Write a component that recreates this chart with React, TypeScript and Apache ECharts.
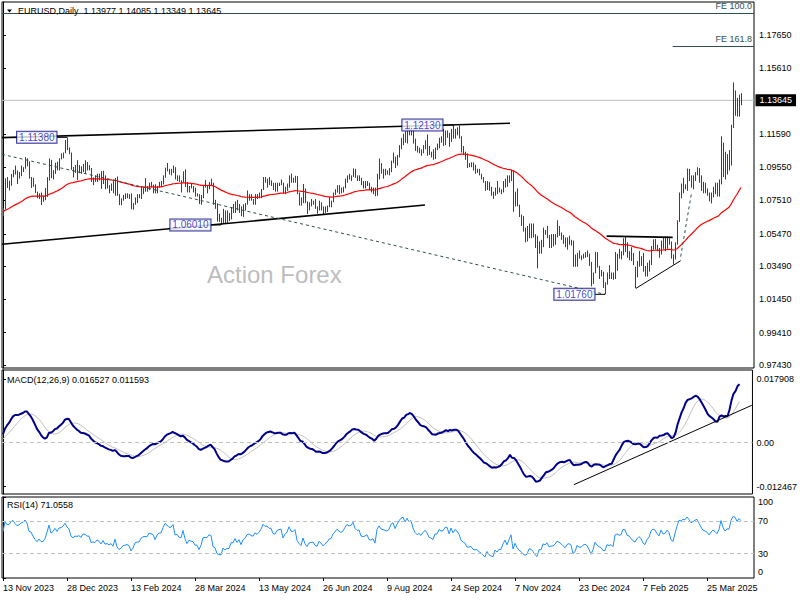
import React, { useEffect, useRef } from "react";
import * as echarts from "echarts";

// ---------------- data (prices in pips above 1.0000) ----------------
const PIP = 10000;

// closes before the visible window (17 Jul - 10 Nov 2023), used only to warm up the indicators
const preClose = [
  1235, 1225, 1200, 1130, 1125,
  1065, 1055, 1085, 975, 1015,
  995, 985, 935, 945, 1005,
  998, 955, 975, 980, 945,
  905, 905, 875, 870, 870,
  895, 845, 860, 810, 795,
  815, 880, 920, 840, 775,
  795, 725, 725, 695, 700,
  750, 755, 730, 640, 660,
  690, 680, 660, 660, 645,
  590, 570, 500, 565, 575,
  475, 470, 505, 550, 590,
  565, 605, 620, 530, 510,
  555, 575, 535, 585, 595,
  670, 590, 565, 565, 565,
  615, 575, 570, 620, 730,
  720, 700, 710, 665, 685,
];

// daily bars 13 Nov 2023 - 17 Apr 2025
const barHigh = [
  705, 887, 895, 872, 914,
  939, 965, 935, 925, 965,
  955, 1017, 1009, 990, 895,
  890, 850, 805, 795, 800,
  780, 827, 894, 1009, 1000,
  937, 983, 989, 1010, 1040,
  1045, 1122, 1138, 1076,
  1045, 956, 969, 998,
  968, 960, 975, 998, 987,
  968, 950, 892, 905, 915,
  915, 932, 933, 905, 885,
  845, 855, 870, 889, 898,
  790, 764, 785, 795, 795,
  790, 795, 735, 770, 790,
  790, 838, 830, 888, 840,
  860, 865, 848, 850, 840,
  865, 870, 905, 952, 981,
  945, 945, 965, 955, 905,
  905, 875, 930, 942, 865,
  840, 855, 840, 830, 795,
  790, 785, 840, 877, 845,
  865, 885, 860, 755, 733,
  670, 645, 700, 690, 690,
  675, 710, 730, 745, 755,
  730, 715, 728, 735, 812,
  790, 790, 760, 790, 790,
  800, 822, 895, 895, 885,
  895, 875, 860, 860, 860,
  860, 880, 860, 835, 855,
  905, 916, 890, 902, 900,
  800, 770, 852, 825, 745,
  740, 760, 750, 760, 715,
  750, 740, 715, 715, 720,
  775, 750, 800, 820, 845,
  845, 830, 835, 885, 905,
  915, 905, 948, 945, 905,
  905, 890, 870, 870, 870,
  860, 835, 830, 830, 915,
  1008, 980, 945, 945, 935,
  950, 995, 1045, 1020, 1030,
  1090, 1135, 1160, 1175, 1200,
  1202, 1190, 1185, 1130, 1085,
  1075, 1065, 1090, 1120, 1155,
  1085, 1050, 1065, 1075, 1100,
  1135, 1145, 1190, 1180, 1180,
  1165, 1190, 1213, 1190, 1200,
  1210, 1145, 1085, 1050, 1040,
  980, 985, 985, 970, 945,
  945, 915, 895, 870, 870,
  865, 835, 805, 830, 870,
  830, 820, 870, 885, 905,
  905, 937, 935, 805, 825,
  725, 665, 655, 585, 595,
  610, 610, 610, 545, 535,
  500, 510, 585, 570, 596,
  540, 545, 545, 545, 630,
  595, 555, 540, 525, 525,
  535, 510, 505, 420, 430,
  445, 415, 425, 435, 445, 425,
  375, 310,
  437, 435, 350, 325, 315,
  250, 310, 355, 310, 310,
  435, 425, 455, 440, 520,
  533, 495, 440, 465, 430,
  345, 380, 442, 410, 430,
  350, 370, 385, 472, 513,
  515, 480, 460, 505, 528,
  530, 530, 520, 500, 420,
  495, 630, 800, 855, 890,
  850, 947, 945, 905, 905,
  925, 955, 950, 905, 865,
  860, 825, 800, 800, 835,
  860, 860, 880, 1145, 1105,
  1050, 1035, 1060, 1215, 1475,
  1425, 1380, 1400, 1408.5,
];

const barLow = [
  656, 697, 828, 812, 841,
  893, 910, 852, 885, 900,
  925, 945, 960, 885, 828,
  835, 796, 765, 760, 723,
  743, 753, 773, 873, 888,
  880, 914, 935, 935, 1003,
  1010, 1040, 1060, 1035,
  939, 892, 920, 877,
  918, 915, 925, 915, 935,
  935, 865, 845, 865, 865,
  875, 822, 852, 820, 825,
  795, 810, 795, 780, 780,
  723, 722, 750, 760, 765,
  760, 697, 695, 725, 735,
  765, 760, 790, 805, 805,
  815, 830, 795, 795, 795,
  830, 835, 850, 890, 930,
  910, 905, 920, 880, 870,
  865, 800, 860, 833, 800,
  800, 825, 800, 775, 775,
  730, 725, 765, 830, 795,
  820, 845, 725, 700, 622,
  620, 601, 610, 610, 610,
  625, 635, 675, 675, 690,
  675, 655, 650, 690, 725,
  750, 750, 725, 725, 760,
  765, 765, 815, 860, 830,
  845, 840, 815, 805, 805,
  840, 845, 795, 790, 810,
  830, 860, 860, 860, 790,
  720, 720, 735, 735, 668,
  690, 715, 725, 700, 670,
  690, 690, 667, 675, 680,
  710, 710, 740, 785, 800,
  790, 795, 800, 825, 860,
  880, 870, 895, 890, 870,
  870, 845, 825, 825, 840,
  815, 800, 790, 777, 780,
  880, 915, 885, 905, 910,
  905, 925, 980, 950, 965,
  1015, 1065, 1090, 1105, 1100,
  1150, 1150, 1100, 1055, 1045,
  1040, 1025, 1040, 1065, 1025,
  1030, 1015, 1000, 1005, 1060,
  1070, 1105, 1085, 1090, 1135,
  1080, 1110, 1130, 1130, 1150,
  1130, 1045, 1030, 1000, 950,
  955, 955, 935, 915, 920,
  905, 880, 860, 810, 815,
  810, 780, 761, 780, 790,
  800, 790, 800, 830, 835,
  860, 870, 682, 715, 715,
  650, 595, 560, 495, 500,
  520, 520, 525, 460, 335,
  425, 425, 465, 540, 520,
  460, 460, 470, 480, 525,
  535, 510, 485, 465, 450,
  480, 475, 345, 345, 345,
  395, 385, 395, 400, 405, 350,
  225, 240,
  305, 340, 270, 285, 215,
  176, 235, 270, 270, 265,
  270, 320, 395, 390, 415,
  435, 400, 385, 380, 355,
  213, 280, 345, 350, 315,
  285, 285, 315, 355, 450,
  450, 440, 400, 420, 455,
  440, 455, 480, 395, 359,
  390, 480, 620, 765, 795,
  820, 810, 870, 830, 820,
  870, 905, 860, 810, 795,
  795, 780, 745, 733, 770,
  790, 775, 775, 850, 895,
  880, 910, 935, 965, 1195,
  1270, 1265, 1265, 1334.9,
];

const barClose = [
  700, 882, 848, 852, 912,
  940, 910, 888, 905, 940,
  953, 998, 970, 890, 883,
  837, 796, 765, 795, 762,
  762, 794, 873, 993, 895,
  923, 980, 942, 1006, 1013,
  1042, 1106, 1062, 1039,
  942, 921, 945, 940,
  950, 930, 972, 970, 950,
  950, 877, 882, 875, 898,
  885, 855, 885, 845, 850,
  835, 845, 817, 873, 785,
  743, 755, 775, 780, 785,
  772, 708, 728, 770, 777,
  777, 807, 820, 823, 820,
  850, 845, 840, 805, 838,
  855, 855, 900, 947, 937,
  925, 925, 950, 885, 890,
  870, 865, 925, 860, 810,
  840, 830, 825, 790, 790,
  740, 770, 835, 837, 837,
  860, 855, 745, 730, 640,
  625, 617, 670, 645, 655,
  655, 700, 700, 735, 695,
  720, 665, 710, 725, 760,
  770, 755, 750, 782, 770,
  790, 820, 880, 865, 870,
  855, 855, 820, 815, 848,
  855, 860, 800, 830, 850,
  905, 875, 870, 890, 800,
  765, 740, 810, 740, 700,
  735, 740, 745, 705, 690,
  735, 715, 680, 700, 710,
  740, 745, 790, 810, 840,
  825, 815, 830, 870, 905,
  895, 900, 940, 900, 885,
  890, 845, 840, 845, 855,
  820, 815, 825, 790, 910,
  955, 930, 925, 920, 915,
  930, 990, 1010, 970, 1025,
  1080, 1130, 1150, 1115, 1190,
  1160, 1185, 1120, 1075, 1050,
  1065, 1045, 1080, 1110, 1085,
  1040, 1030, 1015, 1075, 1075,
  1130, 1115, 1120, 1160, 1163,
  1110, 1180, 1135, 1180, 1165,
  1135, 1065, 1045, 1030, 975,
  975, 980, 940, 935, 935,
  910, 890, 860, 830, 865,
  815, 795, 780, 825, 795,
  815, 815, 855, 885, 835,
  880, 930, 730, 800, 720,
  655, 625, 565, 530, 540,
  600, 595, 545, 470, 415,
  495, 490, 565, 550, 575,
  500, 510, 510, 530, 565,
  550, 530, 500, 470, 500,
  510, 490, 350, 365, 430,
  405, 400, 420, 430, 410, 355,
  265, 305,
  390, 345, 315, 300, 245,
  245, 305, 290, 300, 270,
  410, 425, 410, 415, 495,
  490, 430, 420, 390, 360,
  345, 380, 403, 381, 329,
  307, 361, 383, 466, 493,
  484, 447, 423, 503, 459,
  466, 512, 487, 398, 376,
  485, 625, 790, 780, 835,
  830, 920, 890, 850, 880,
  920, 945, 900, 855, 815,
  805, 790, 755, 800, 830,
  815, 790, 855, 1050, 960,
  905, 955, 950, 1195, 1360,
  1350, 1285, 1398, 1364.5,
];

const dateTickLabels = [
  "13 Nov 2023", "28 Dec 2023", "13 Feb 2024", "28 Mar 2024", "13 May 2024", "26 Jun 2024",
  "9 Aug 2024", "24 Sep 2024", "7 Nov 2024", "23 Dec 2024", "7 Feb 2025", "25 Mar 2025",
];
const dateTickStep = 32;
const priceTicks = [1.1765, 1.1561, 1.1159, 1.0955, 1.0751, 1.0547, 1.0349, 1.0145, 0.9941, 0.9743];
const macdTicks = [0.017908, 0, -0.012467];
const rsiTicks = [100, 70, 30, 0];
const rsiLevels = [70, 30];

const headerText = "EURUSD,Daily  1.13977 1.14085 1.13349 1.13645";
const macdText = "MACD(12,26,9) 0.016527 0.011593";
const rsiText = "RSI(14) 71.0558";
const watermark = "Action Forex";
const lastPrice = 1.13645;

// Fibonacci expansion levels
const fe100 = 1.1916;
const fe1618 = 1.1698;
const fe1618Start = 334.85;

// swing points with price labels (bar index, which extreme)
const pivotBars = [32, 109, 225, 301];
const pivotSides = ["high", "low", "high", "low"];

// drawn trend lines: [bar index, price]
const upperChannel = [[-0.5, 1.1136], [253.5, 1.1224]];
const lowerChannel = [[-0.5, 1.0483], [211, 1.0723]];
const longDashed = [[-0.5, 1.1034], [301, 1.0176]];
const shortDashed = [[338.85, 1.0407], [344.35, 1.0805]];
const boxTop = [[301.85, 1.0533], [334.85, 1.0525]];
const boxBottom = [[316.5, 1.0213], [338.85, 1.0382]];
const macdTrend = [[286, -0.01194], [375.15, 0.01053]];

// ---------------- helpers ----------------
const toPrice = (p: number) => 1 + p / PIP;

function ema(src: number[], n: number): number[] {
  const k = 2 / (n + 1);
  const out: number[] = [];
  let prev = src[0];
  src.forEach((v, i) => {
    prev = i === 0 ? v : v * k + prev * (1 - k);
    out.push(prev);
  });
  return out;
}
function sma(src: number[], n: number): number[] {
  return src.map((_, i) => {
    const s = Math.max(0, i - n + 1);
    let t = 0;
    for (let j = s; j <= i; j++) t += src[j];
    return t / (i - s + 1);
  });
}
function rsi(src: number[], n: number): number[] {
  const out = new Array(src.length).fill(50);
  let ag = 0, al = 0;
  for (let i = 1; i < src.length; i++) {
    const d = src[i] - src[i - 1];
    const g = d > 0 ? d : 0, l = d < 0 ? -d : 0;
    if (i <= n) { ag += g / n; al += l / n; }
    else { ag = (ag * (n - 1) + g) / n; al = (al * (n - 1) + l) / n; }
    out[i] = al === 0 ? 100 : 100 - 100 / (1 + ag / al);
  }
  return out;
}

const FONT = '"Liberation Sans", Arial, sans-serif';
const BAR_COLOR = "#1b4a64";
const OBJ_GREY = "#2f4f4f";
const XMIN = -0.5;
const XMAX = 375.5;

export default function App() {
  const ref = useRef<HTMLDivElement>(null);

  useEffect(() => {
    if (!ref.current) return;
    const chart = echarts.init(ref.current, undefined, { renderer: "svg" });

    const offset = preClose.length;
    const allClose = [...preClose, ...barClose].map(toPrice);
    const ema55 = ema(allClose, 55).slice(offset);
    const e12 = ema(allClose, 12);
    const e26 = ema(allClose, 26);
    const macdAll = e12.map((v, i) => v - e26[i]);
    const sigAll = sma(macdAll, 9);
    const macd = macdAll.slice(offset);
    const sig = sigAll.slice(offset);
    const rsi14 = rsi(allClose, 14).slice(offset);

    const bars = barHigh.map((h, i) => [i, toPrice(h), toPrice(barLow[i])]);

    const seg = (pts: number[][], color: string, width: number, dash: any, xi = 0, z = 5) => ({
      type: "line",
      xAxisIndex: xi,
      yAxisIndex: xi,
      data: pts,
      showSymbol: false,
      symbol: "none",
      silent: true,
      z,
      lineStyle: { color, width, type: dash },
    });

    const pivotPrices = pivotBars.map((b, k) =>
      pivotSides[k] === "high" ? toPrice(barHigh[b]) : toPrice(barLow[b])
    );
    const connectors = pivotBars.map((b, k) =>
      seg([[b - 5, pivotPrices[k]], [b, pivotPrices[k]]], "#000", 1, "solid")
    );

    const axisText = { color: "#000", fontSize: 9, fontFamily: FONT };
    const hiddenX = (gi: number) => ({
      type: "value", gridIndex: gi, min: XMIN, max: XMAX,
      axisLine: { show: false }, axisTick: { show: false }, axisLabel: { show: false }, splitLine: { show: false },
    });
    const dateValues = dateTickLabels.map((_, k) => k * dateTickStep);

    const option: any = {
      animation: false,
      backgroundColor: "#ffffff",
      grid: [
        { left: 2, top: 2, width: 752, height: 366, show: true, borderColor: "#000", borderWidth: 1, backgroundColor: "transparent" },
        { left: 2, top: 370, width: 752, height: 124, show: true, borderColor: "#000", borderWidth: 1, backgroundColor: "transparent" },
        { left: 2, top: 497, width: 752, height: 81, show: true, borderColor: "#000", borderWidth: 1, backgroundColor: "transparent" },
      ],
      xAxis: [
        hiddenX(0),
        hiddenX(1),
        {
          type: "value", gridIndex: 2, min: XMIN, max: XMAX,
          axisLine: { show: false },
          splitLine: { show: false },
          axisTick: { show: true, customValues: dateValues, length: 3, lineStyle: { color: "#000" } },
          axisLabel: {
            ...axisText, customValues: dateValues, align: "left", margin: 5,
            formatter: (v: number) => dateTickLabels[Math.round(v / dateTickStep)] || "",
          },
        },
      ],
      yAxis: [
        {
          type: "value", gridIndex: 0, position: "right", min: 0.97247, max: 1.19672,
          axisLine: { show: true, lineStyle: { color: "#000" } },
          splitLine: { show: false },
          axisTick: { show: true, customValues: priceTicks, length: 3, lineStyle: { color: "#000" } },
          axisLabel: { ...axisText, customValues: priceTicks, margin: 5, formatter: (v: number) => v.toFixed(5) },
        },
        {
          type: "value", gridIndex: 1, position: "right", min: -0.01457, max: 0.02052,
          axisLine: { show: true, lineStyle: { color: "#000" } },
          splitLine: { show: false },
          axisTick: { show: true, customValues: macdTicks, length: 3, lineStyle: { color: "#000" } },
          axisLabel: {
            ...axisText, customValues: macdTicks, margin: 4,
            formatter: (v: number) => (Math.abs(v) < 1e-9 ? "0.00" : v.toFixed(6)),
          },
        },
        {
          type: "value", gridIndex: 2, position: "right", min: 0, max: 100,
          axisLine: { show: true, lineStyle: { color: "#000" } },
          splitLine: { show: false },
          axisTick: { show: true, customValues: rsiTicks, length: 3, lineStyle: { color: "#000" } },
          axisLabel: {
            ...axisText, customValues: rsiTicks, margin: 4,
            formatter: (v: number) => (v === 100 ? "{dn|100}" : v === 0 ? "{up|0}" : "{n|" + v + "}"),
            rich: {
              dn: { fontSize: 9, fontFamily: FONT, color: "#000", padding: [10, 0, 0, 0] },
              up: { fontSize: 9, fontFamily: FONT, color: "#000", padding: [0, 0, 12, 0] },
              n: { fontSize: 9, fontFamily: FONT, color: "#000" },
            },
          },
        },
      ],
      graphic: [
        { type: "polygon", z: 100, shape: { points: [[7, 9.5], [12, 9.5], [9.5, 12.5]] }, style: { fill: "#000" } },
        { type: "text", z: 100, x: 18, y: 11, style: { text: headerText, fill: "#000", font: `9px ${FONT}`, verticalAlign: "middle" } },
        { type: "text", z: 100, x: 7, y: 380, style: { text: macdText, fill: "#000", font: `9px ${FONT}`, verticalAlign: "middle" } },
        { type: "text", z: 100, x: 7, y: 505, style: { text: rsiText, fill: "#000", font: `9px ${FONT}`, verticalAlign: "middle" } },
        { type: "text", z: 100, x: 207, y: 274, style: { text: watermark, fill: "#bdbdbd", font: `24px ${FONT}`, verticalAlign: "middle" } },
      ],
      series: [
        // current price line
        {
          type: "line", xAxisIndex: 0, yAxisIndex: 0, z: 1, silent: true,
          data: [[XMIN, lastPrice], [XMAX, lastPrice]],
          showSymbol: false, symbol: "none",
          lineStyle: { color: "#c0c0c0", width: 1 },
          markPoint: {
            silent: true,
            symbol: "rect", symbolSize: 1, itemStyle: { color: "rgba(0,0,0,0)" },
            data: [{ coord: [XMAX, lastPrice] }],
            label: {
              show: true, position: "right", distance: 1, formatter: lastPrice.toFixed(5),
              color: "#fff", backgroundColor: "#000", padding: [2, 4, 1, 4], fontSize: 9, fontFamily: FONT,
            },
          },
        },
        // price bars
        {
          type: "custom", xAxisIndex: 0, yAxisIndex: 0, z: 2, silent: true,
          data: bars,
          encode: { x: 0, y: [1, 2] },
          renderItem: (_p: any, api: any) => {
            const i = api.value(0);
            const a = api.coord([i, api.value(1)]);
            const b = api.coord([i, api.value(2)]);
            const x = Math.round(a[0]) + 0.5;
            return {
              type: "line",
              shape: { x1: x, y1: a[1], x2: x, y2: b[1] },
              style: { stroke: BAR_COLOR, lineWidth: 1 },
            };
          },
        },
        // 55 EMA with FE levels
        {
          type: "line", xAxisIndex: 0, yAxisIndex: 0, z: 3, silent: true,
          data: ema55.map((v, i) => [i, v]),
          showSymbol: false, symbol: "none",
          lineStyle: { color: "#ff0000", width: 1.2 },
          markLine: {
            silent: true, symbol: ["none", "none"],
            data: [
              {
                yAxis: fe100,
                lineStyle: { color: OBJ_GREY, width: 1, type: "solid" },
                label: { show: true, position: "insideEndTop", formatter: "FE 100.0", color: OBJ_GREY, fontSize: 9, fontFamily: FONT, distance: 2 },
              },
              [
                {
                  coord: [fe1618Start, fe1618],
                  lineStyle: { color: OBJ_GREY, width: 1, type: "solid" },
                  label: { show: true, position: "insideEndTop", formatter: "FE 161.8", color: OBJ_GREY, fontSize: 9, fontFamily: FONT, distance: 2 },
                },
                { coord: [XMAX, fe1618] },
              ],
            ],
          },
        },
        seg(upperChannel, "#000", 1.6, "solid"),
        seg(lowerChannel, "#000", 1.6, "solid"),
        seg(longDashed, OBJ_GREY, 1, [3, 3]),
        seg(shortDashed, OBJ_GREY, 1, [3, 3]),
        seg(boxTop, "#000", 1.6, "solid"),
        seg(boxBottom, "#000", 1, "solid"),
        ...connectors,
        // swing labels
        {
          type: "scatter", xAxisIndex: 0, yAxisIndex: 0, z: 8, silent: true,
          symbol: "rect", symbolSize: 1, itemStyle: { color: "rgba(0,0,0,0)" },
          data: pivotBars.map((b, k) => [b - 5, pivotPrices[k], pivotPrices[k].toFixed(5)]),
          label: {
            show: true, position: "left", distance: 0,
            formatter: (p: any) => p.data[2],
            color: "#1414c8", fontSize: 10, fontFamily: FONT, lineHeight: 10,
            backgroundColor: "#fff", borderColor: "#000080", borderWidth: 1, padding: [1, 2, 0, 2],
          },
        },
        // MACD
        {
          type: "line", xAxisIndex: 1, yAxisIndex: 1, z: 2, silent: true,
          data: sig.map((v, i) => [i, v]),
          showSymbol: false, symbol: "none",
          lineStyle: { color: "#c0c0c0", width: 1 },
          markLine: {
            silent: true, symbol: ["none", "none"],
            data: [{ yAxis: 0 }],
            label: { show: false },
            lineStyle: { color: "#c0c0c0", width: 1, type: [4, 3] },
          },
        },
        {
          type: "line", xAxisIndex: 1, yAxisIndex: 1, z: 3, silent: true,
          data: macd.map((v, i) => [i, v]),
          showSymbol: false, symbol: "none",
          lineStyle: { color: "#00008b", width: 2 },
        },
        seg(macdTrend, "#000", 1, "solid", 1, 4),
        // RSI
        {
          type: "line", xAxisIndex: 2, yAxisIndex: 2, z: 3, silent: true,
          data: rsi14.map((v, i) => [i, v]),
          showSymbol: false, symbol: "none",
          lineStyle: { color: "#1e90ff", width: 1 },
          markLine: {
            silent: true, symbol: ["none", "none"],
            data: rsiLevels.map((v) => ({ yAxis: v })),
            label: { show: false },
            lineStyle: { color: "#c0c0c0", width: 1, type: [4, 3] },
          },
        },
      ],
    };

    chart.setOption(option);
    return () => chart.dispose();
  }, []);

  return (
    <div
      ref={ref}
      style={{ position: "fixed", left: 0, top: 0, width: 800, height: 600, background: "#ffffff" }}
    />
  );
}
